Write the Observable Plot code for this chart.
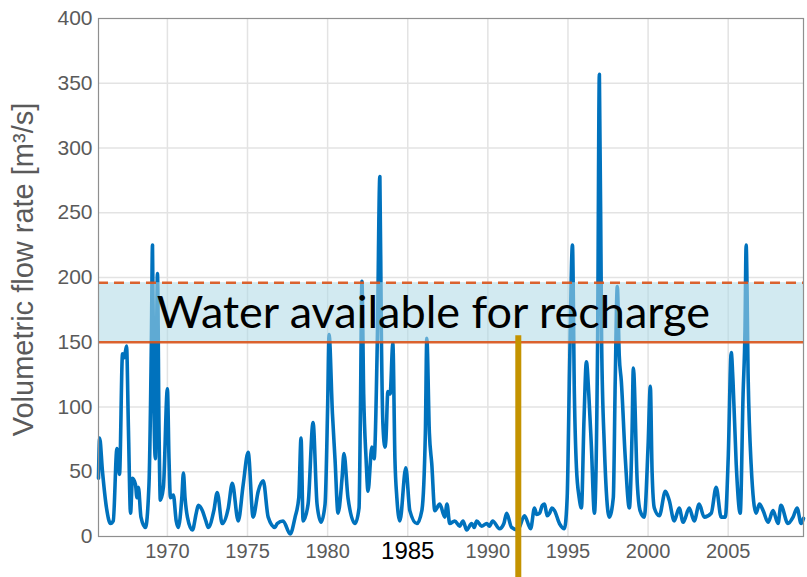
<!DOCTYPE html>
<html><head><meta charset="utf-8">
<script src="https://cdn.jsdelivr.net/npm/d3@7"></script>
<script src="https://cdn.jsdelivr.net/npm/@observablehq/plot@0.6"></script>
<style>body{margin:0;background:#fff}</style>
</head><body><div id="chart"></div>
<script>
// Monthly-ish flow record (decimal year, m3/s)
const years = [
1965.70,1965.77,1965.95,1966.20,1966.45,1966.62,1966.85,1966.95,1967.01,1967.20,1967.30,1967.45,1967.57,1967.70,1967.82,1968.01,1968.10,1968.19,1968.35,1968.63,1968.85,1969.00,1969.07,1969.15,1969.25,1969.38,1969.48,1969.56,1969.75,1970.00,
1970.10,1970.19,1970.37,1970.55,1970.68,1970.90,1971.00,1971.10,1971.25,1971.56,1971.80,1971.93,1972.18,1972.40,1972.55,1972.90,1973.11,1973.42,1973.80,1974.05,1974.42,1974.73,1975.04,1975.35,1975.67,1975.98,1976.29,1976.72,1976.85,1977.22,
1977.66,1977.97,1978.20,1978.34,1978.47,1978.78,1979.09,1979.34,1979.59,1979.84,1980.00,1980.09,1980.30,1980.46,1980.65,1980.90,1981.02,1981.27,1981.71,1981.96,1982.05,1982.14,1982.25,1982.40,1982.52,1982.76,1982.90,1983.10,1983.26,1983.35,
1983.45,1983.58,1983.64,1983.76,1983.90,1984.07,1984.20,1984.32,1984.51,1984.88,1985.13,1985.57,1985.88,1986.10,1986.19,1986.35,1986.50,1986.69,1987.00,1987.31,1987.45,1987.62,1987.93,1988.24,1988.45,1988.68,1988.99,1989.15,1989.30,1989.61,
1989.93,1990.10,1990.30,1990.73,1991.00,1991.17,1991.48,1991.86,1992.29,1992.67,1992.91,1993.05,1993.23,1993.40,1993.54,1993.70,1993.85,1994.00,1994.16,1994.47,1994.78,1994.95,1995.10,1995.28,1995.40,1995.53,1995.70,1995.84,1996.00,1996.15,
1996.30,1996.46,1996.65,1996.85,1996.96,1997.10,1997.27,1997.58,1997.83,1997.95,1998.08,1998.20,1998.33,1998.58,1998.83,1999.00,1999.08,1999.33,1999.50,1999.76,2000.00,2000.14,2000.25,2000.39,2000.70,2001.08,2001.32,2001.63,2001.94,2002.19,
2002.57,2002.88,2003.19,2003.50,2003.94,2004.25,2004.56,2004.82,2005.00,2005.19,2005.30,2005.50,2005.75,2005.93,2006.05,2006.12,2006.25,2006.43,2006.74,2006.95,2007.18,2007.49,2007.80,2008.11,2008.29,2008.73,2009.05,2009.30,2009.55,2009.70
];
const flows = [
45,76,50,22,10,12,68,55,48,141,138,147,82,18,45,40,30,38,15,7,40,150,225,110,60,203,80,28,38,114,
60,30,32,12,7,30,49,30,15,5,18,24,20,12,7,20,34,10,22,41,12,40,65,15,35,43,15,7,10,12,
2,15,30,76,12,25,88,25,11,25,100,156,95,60,18,45,64,30,10,22,100,197,110,60,35,69,60,150,278,160,
87,69,75,112,110,149,60,30,12,53,20,10,20,80,153,80,56,20,25,15,25,10,12,8,12,5,10,7,12,8,
10,8,12,6,10,18,7,5,16,6,22,17,18,24,25,16,18,22,20,10,6,30,130,225,110,53,30,22,90,135,
110,70,18,150,357,150,70,15,30,120,193,140,120,60,22,80,130,40,20,15,70,116,50,22,16,35,28,12,22,11,
22,12,25,15,18,38,15,15,60,142,120,56,18,110,160,225,120,56,18,25,20,11,20,10,24,10,15,22,10,14
];
const xTicks = [1970, 1975, 1980, 1990, 1995, 2000, 2005];
const highlightTick = [1985];
const gridXTicks = [1970, 1975, 1980, 1985, 1990, 1995, 2000, 2005];
const yTicks = [0, 50, 100, 150, 200, 250, 300, 350, 400];
const bandLow = 150;
const bandHigh = 196;
const markerYear = 1991.9;
const markerTop = 155;
const bandLabel = "Water available for recharge";
const bandLabelYear = 1986.6;
const yLabel = "Volumetric flow rate [m³/s]";

const series = years.map((t, i) => ({t, q: flows[i]}));

const chart = Plot.plot({
  width: 807, height: 577,
  marginLeft: 98, marginRight: 4, marginTop: 18, marginBottom: 41,
  x: {domain: [1965.7, 2009.7]},
  y: {domain: [0, 400]},
  style: {fontFamily: "'Liberation Sans', Arial, sans-serif", background: "white", overflow: "visible"},
  marks: [
    Plot.gridX(gridXTicks, {stroke: "#e3e3e3", strokeOpacity: 1, strokeWidth: 1.5}),
    Plot.gridY(yTicks.slice(1, -1), {stroke: "#e3e3e3", strokeOpacity: 1, strokeWidth: 1.5}),
    Plot.line(series, {x: "t", y: "q", stroke: "#0072bd", strokeWidth: 3.6, strokeLinejoin: "round", curve: "monotone-x"}),
    Plot.rectY([{lo: bandLow, hi: bandHigh}], {y1: "lo", y2: "hi", fill: "#add8e6", fillOpacity: 0.55}),
    Plot.ruleY([bandLow], {stroke: "#d95319", strokeWidth: 2.5, strokeOpacity: 0.9}),
    Plot.ruleY([bandHigh], {stroke: "#d95319", strokeWidth: 2.5, strokeOpacity: 0.9, strokeDasharray: "10,6"}),
    Plot.frame({stroke: "#8f8f8f", strokeWidth: 1.2}),
    Plot.ruleX([markerYear], {y1: markerTop, y2: 0, stroke: "#c49300", strokeWidth: 6, insetBottom: -41}),
    Plot.axisY(yTicks, {tickSize: 0, tickPadding: 6, fill: "#5a5a5a", fontSize: 21, label: null}),
    Plot.axisX(xTicks, {tickSize: 0, tickPadding: 7, fill: "#5a5a5a", fontSize: 20, label: null, tickFormat: "d"}),
    Plot.axisX(highlightTick, {tickSize: 0, tickPadding: 5, fill: "black", fontSize: 24, fontFamily: "'Liberation Sans Narrow', 'Arial Narrow', sans-serif", label: null, tickFormat: "d"}),
    Plot.text([bandLabel], {x: bandLabelYear, y: (bandLow + bandHigh) / 2, text: d => d, fontSize: 45, fontFamily: "Lato, 'Open Sans', sans-serif", fill: "black", dy: 1}),
    Plot.text([yLabel], {frameAnchor: "left", text: d => d, rotate: -90, textAnchor: "middle", dx: -75, dy: -8, fontSize: 29, fill: "#5a5a5a"})
  ]
});
document.getElementById("chart").append(chart);
</script>
</body></html>
